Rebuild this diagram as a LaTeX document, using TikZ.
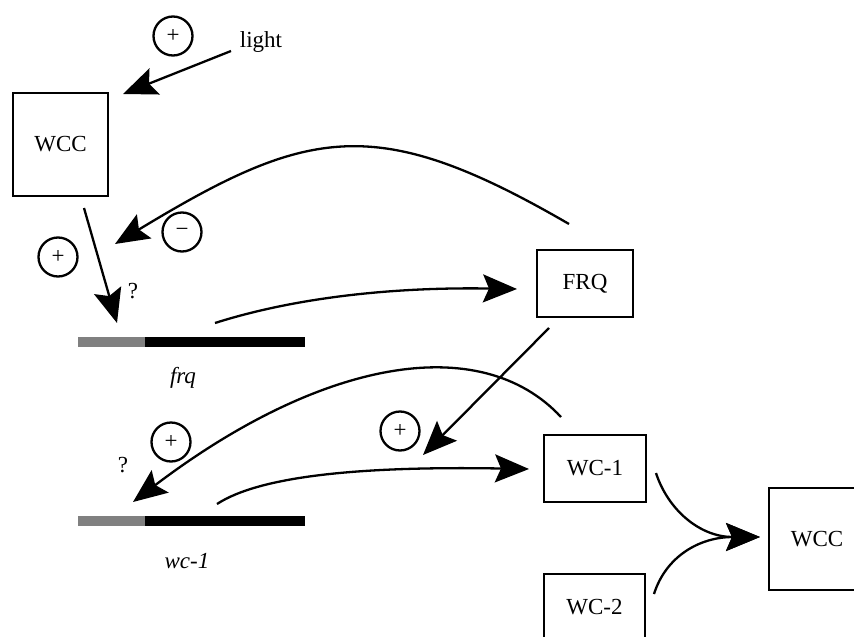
\documentclass[tikz,border=0pt]{standalone}
\usepackage{fontspec}
\setmainfont{Liberation Serif}
\usetikzlibrary{arrows.meta}
\begin{document}
\begin{tikzpicture}[x=1pt,y=-1pt,
  txt/.style={font=\fontsize{23}{27}\selectfont},
  box/.style={draw, line width=2.6pt, inner sep=0pt, txt},
  sign/.style={draw, circle, line width=2.3pt, minimum size=39pt, inner sep=0pt, txt},
  lbl/.style={inner sep=0pt, txt},
  conn/.style={line width=2.3pt, -{Stealth[length=34pt,width=28pt,inset=6pt]}},
  promoter/.style={fill=black!50, inner sep=0pt, minimum height=10pt},
  gene/.style={fill=black, inner sep=0pt, minimum height=10pt},
]
\clip (0,0) rectangle (854,637);
\fill[white] (0,0) rectangle (854,637);

% boxes
\node[box, minimum width=95pt, minimum height=103pt] (wcc1) at (60.5,144.5) {WCC};
\node[box, minimum width=96pt, minimum height=67pt] (frqP) at (585,283.5) {FRQ};
\node[box, minimum width=102pt, minimum height=67pt] (wc1P) at (595,468.5) {WC-1};
\node[box, minimum width=101pt, minimum height=67pt] (wc2P) at (594.5,607.5) {WC-2};
\node[box, minimum width=96pt, minimum height=102pt] (wcc2) at (817,539) {WCC};

% signs
\node[sign] (s1) at (173,36) {+};
\node[sign] (s2) at (58,257) {+};
\node[sign] (sm) at (182,232) {−};
\node[sign] (s3) at (400,431) {+};
\node[sign] (s4) at (171,442) {+};

% labels
\node[lbl] (light) at (261,42) {light};
\node[lbl] (q1) at (133,291) {?};
\node[lbl] (q2) at (123,465) {?};
\node[lbl] (frqL) at (183,378) {\itshape frq};
\node[lbl] (wc1L) at (187,561) {\itshape wc-1};

% genes
\node[promoter, minimum width=67pt] (frqPro) at (111.5,342) {};
\node[gene, minimum width=160pt] (frqGene) at (225,342) {};
\node[promoter, minimum width=67pt] (wcPro) at (111.5,521) {};
\node[gene, minimum width=160pt] (wcGene) at (225,521) {};

% connector ends
\coordinate (a1s) at (231,51);  \coordinate (a1t) at (123,94);
\coordinate (a2s) at (84,208);  \coordinate (a2t) at (117,323);
\coordinate (a3s) at (569,224); \coordinate (a3t) at (115,244);
\coordinate (a4s) at (215,323); \coordinate (a4t) at (517,289);
\coordinate (a5s) at (549,328); \coordinate (a5t) at (423,455);
\coordinate (a6s) at (561,417); \coordinate (a6t) at (133,502);
\coordinate (a7s) at (217,504); \coordinate (a7t) at (529,469);
\coordinate (a8s) at (656,473); \coordinate (a8t) at (760,537);
\coordinate (a9s) at (654,594);

% connectors
\draw[conn] (a1s) -- (a1t);
\draw[conn] (a2s) -- (a2t);
\draw[conn] (a3s) .. controls (376,112) and (308,127) .. (a3t);
\draw[conn] (a4s) .. controls (300,296) and (400,287) .. (a4t);
\draw[conn] (a5s) -- (a5t);
\draw[conn] (a6s) .. controls (480,330) and (320,360) .. (a6t);
\draw[conn] (a7s) .. controls (260,476) and (360,466) .. (a7t);
\draw[conn] (a8s) .. controls (668,510) and (700,537) .. (a8t);
\draw[conn] (a9s) .. controls (666,556) and (700,537) .. (a8t);
\end{tikzpicture}
\end{document}
